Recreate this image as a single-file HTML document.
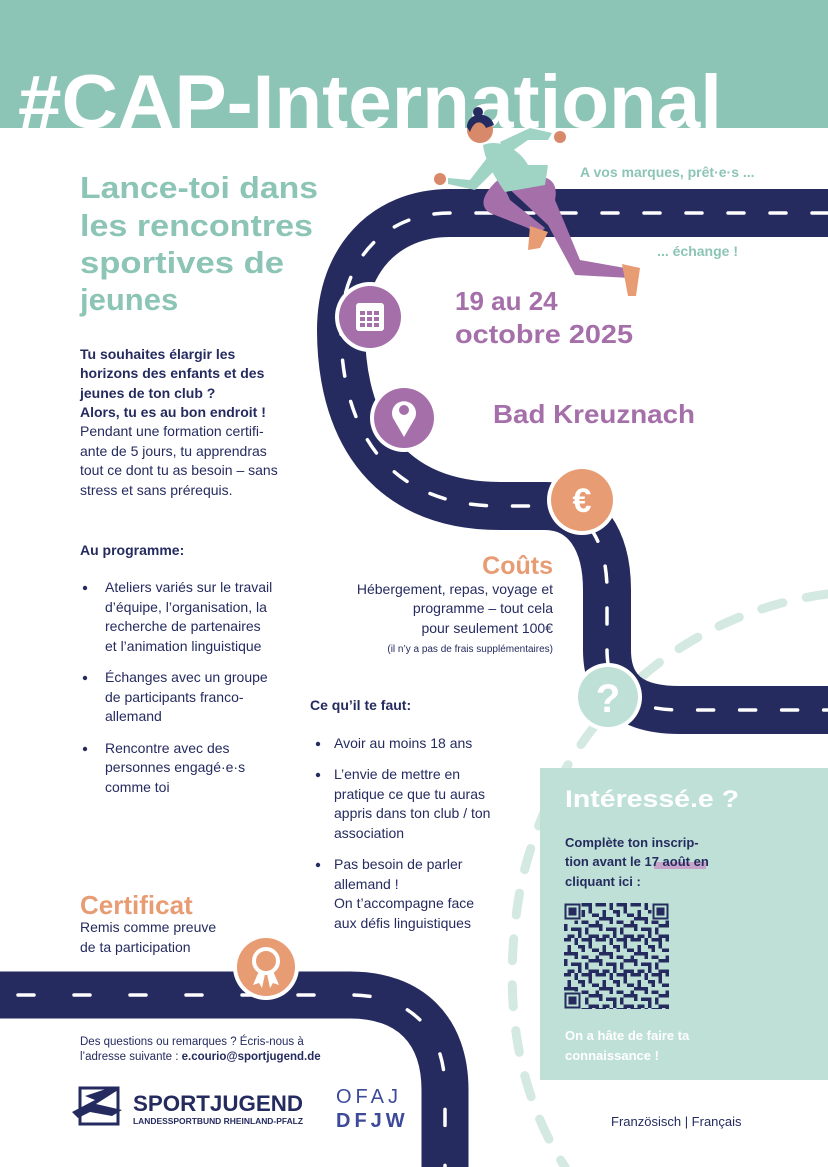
<!DOCTYPE html>
<html><head><meta charset="utf-8"><style>
html,body{margin:0;padding:0;background:#fff;}
svg{display:block;}
text{font-family:"Liberation Sans",sans-serif;}
</style></head><body>
<svg width="828" height="1167" viewBox="0 0 828 1167" xmlns="http://www.w3.org/2000/svg">
<defs>
<pattern id="qr" x="564" y="903" width="35" height="35" patternUnits="userSpaceOnUse">
<g fill="#252b5f">
<rect x="0" y="0" width="7" height="3.5"/><rect x="10.5" y="0" width="3.5" height="7"/><rect x="17.5" y="0" width="10.5" height="3.5"/><rect x="31.5" y="0" width="3.5" height="3.5"/>
<rect x="3.5" y="7" width="3.5" height="7"/><rect x="14" y="7" width="7" height="3.5"/><rect x="24.5" y="3.5" width="3.5" height="7"/><rect x="28" y="10.5" width="7" height="3.5"/>
<rect x="0" y="14" width="10.5" height="3.5"/><rect x="10.5" y="14" width="3.5" height="7"/><rect x="17.5" y="17.5" width="7" height="3.5"/><rect x="31.5" y="17.5" width="3.5" height="7"/>
<rect x="0" y="21" width="3.5" height="7"/><rect x="7" y="24.5" width="10.5" height="3.5"/><rect x="21" y="24.5" width="3.5" height="7"/><rect x="24.5" y="21" width="7" height="3.5"/>
<rect x="3.5" y="31.5" width="7" height="3.5"/><rect x="14" y="28" width="3.5" height="7"/><rect x="24.5" y="31.5" width="10.5" height="3.5"/><rect x="17.5" y="10.5" width="3.5" height="3.5"/>
</g></pattern>
</defs>

<!-- header -->
<rect x="0" y="0" width="828" height="128" fill="#8cc5b5"/>
<text x="18" y="128" font-size="76" font-weight="bold" fill="#fff" textLength="704" lengthAdjust="spacingAndGlyphs">#CAP-International</text>

<!-- dashed light arc -->
<path d="M828,594 C700,610 565,700 522,880 C500,990 515,1090 565,1167" fill="none" stroke="#d3e9e2" stroke-width="9" stroke-linecap="round" stroke-dasharray="22 24"/>

<!-- interested box -->
<rect x="540" y="768" width="288" height="312" fill="#bfe0d6"/>

<!-- roads -->
<g fill="none">
<path d="M828,213 L450,213 C385,213 341,260 341,330 C341,420 380,506 500,506 L545,506 C585,506 607,540 607,590 L607,650 C607,690 630,710 680,710 L828,710" stroke="#252b5f" stroke-width="48"/>
<path d="M828,213 L450,213 C385,213 341,260 341,330 C341,420 380,506 500,506 L545,506 C585,506 607,540 607,590 L607,650 C607,690 630,710 680,710 L828,710" stroke="#fff" stroke-width="3.5" stroke-dasharray="16 26" stroke-linecap="round"/>
<path d="M0,995 L350,995 C410,995 445,1030 445,1090 L445,1167" stroke="#252b5f" stroke-width="47"/>
<path d="M18,995 L350,995 C410,995 445,1030 445,1090 L445,1167" stroke="#fff" stroke-width="3.5" stroke-dasharray="16 40" stroke-linecap="round"/>
</g>
<path d="M560,760 C545,780 535,800 528,820" stroke="#a7c6c4" stroke-width="8" fill="none" opacity="0"/>

<!-- icon circles -->
<circle cx="370" cy="317" r="35" fill="#fff"/><circle cx="370" cy="317" r="31" fill="#a56fa9"/>
<rect x="356" y="303" width="28" height="28" rx="3" fill="#fff"/>
<g fill="#a56fa9"><rect x="360" y="311" width="5" height="4"/><rect x="367" y="311" width="5" height="4"/><rect x="374" y="311" width="5" height="4"/><rect x="360" y="317" width="5" height="4"/><rect x="367" y="317" width="5" height="4"/><rect x="374" y="317" width="5" height="4"/><rect x="360" y="323" width="5" height="4"/><rect x="367" y="323" width="5" height="4"/><rect x="374" y="323" width="5" height="4"/></g>

<circle cx="404" cy="418" r="34" fill="#fff"/><circle cx="404" cy="418" r="30" fill="#a56fa9"/>
<path d="M404,437 L393,418 A12,12 0 1 1 415,418 Z" fill="#fff"/><circle cx="404" cy="410" r="5" fill="#a56fa9"/>

<circle cx="582" cy="500" r="35" fill="#fff"/><circle cx="582" cy="500" r="31" fill="#e89c74"/>
<text x="582" y="512" font-size="34" font-weight="bold" fill="#fff" text-anchor="middle">€</text>

<circle cx="608" cy="697" r="34" fill="#fff"/><circle cx="608" cy="697" r="30" fill="#bfe0d6"/>
<text x="608" y="712" font-size="40" font-weight="bold" fill="#fff" text-anchor="middle">?</text>

<circle cx="266" cy="967" r="33" fill="#fff"/><circle cx="266" cy="967" r="29" fill="#e89c74"/>
<circle cx="266" cy="961" r="12" fill="none" stroke="#fff" stroke-width="4"/>
<path d="M259,971 L253,985 L259,983 L262,988 L265,974 Z M273,971 L279,985 L273,983 L270,988 L267,974 Z" fill="#fff"/>

<!-- runner -->
<g>
<path d="M505,185 C540,170 560,175 555,200 L580,260 L625,268 L630,278 L575,275 L548,225 Z" fill="#a56fa9"/>
<path d="M500,178 C480,195 478,210 495,215 L528,228 L538,235 L545,228 L510,200 Z" fill="#a56fa9"/>
<path d="M622,264 L640,268 L636,296 L628,296 Z" fill="#e89c74"/>
<path d="M530,226 L548,232 L540,248 L528,250 Z" fill="#e89c74"/>
<path d="M483,145 C500,138 520,150 528,165 L548,165 L545,185 L505,192 C493,175 485,160 483,145 Z" fill="#9fd3c3"/>
<path d="M500,142 L530,128 L552,133 L548,140 L528,140 L505,156 Z" fill="#9fd3c3"/>
<path d="M487,158 L470,180 L448,178 L448,184 L475,190 L495,170 Z" fill="#9fd3c3"/>
<circle cx="480" cy="130" r="13" fill="#d8896a"/>
<path d="M467,127 C467,112 490,110 494,125 L486,128 C482,120 474,120 470,132 Z" fill="#252b5f"/>
<circle cx="478" cy="112" r="5" fill="#252b5f"/>
<circle cx="440" cy="179" r="6" fill="#d8896a"/><circle cx="560" cy="137" r="6" fill="#d8896a"/>
</g>

<!-- road side labels -->
<text x="580" y="177" font-size="14" font-weight="bold" fill="#8cc5b5">A vos marques, prêt·e·s ...</text>
<text x="738" y="256" font-size="14" font-weight="bold" fill="#8cc5b5" text-anchor="end">... échange !</text>

<!-- headline -->
<g font-size="31" font-weight="bold" fill="#8cc5b5">
<text x="80" y="198" textLength="238" lengthAdjust="spacingAndGlyphs">Lance-toi dans</text>
<text x="80" y="236" textLength="233" lengthAdjust="spacingAndGlyphs">les rencontres</text>
<text x="80" y="273" textLength="204" lengthAdjust="spacingAndGlyphs">sportives de</text>
<text x="80" y="310">jeunes</text>
</g>

<g font-size="26" font-weight="bold" fill="#a56fa9">
<text x="455" y="310">19 au 24</text>
<text x="455" y="343" textLength="178" lengthAdjust="spacingAndGlyphs">octobre 2025</text>
<text x="493" y="423" textLength="202" lengthAdjust="spacingAndGlyphs">Bad Kreuznach</text>
</g>

<!-- left text -->
<g font-size="14" fill="#252b5f">
<g font-weight="bold">
<text x="80" y="359">Tu souhaites élargir les</text>
<text x="80" y="378">horizons des enfants et des</text>
<text x="80" y="398">jeunes de ton club ?</text>
<text x="80" y="417">Alors, tu es au bon endroit !</text>
</g>
<text x="80" y="436">Pendant une formation certifi-</text>
<text x="80" y="456">ante de 5 jours, tu apprendras</text>
<text x="80" y="475">tout ce dont tu as besoin – sans</text>
<text x="80" y="495">stress et sans prérequis.</text>
<text x="80" y="555" font-weight="bold">Au programme:</text>
<g><circle cx="85" cy="588" r="2.2"/><circle cx="85" cy="678" r="2.2"/><circle cx="85" cy="749" r="2.2"/></g>
<text x="105" y="592">Ateliers variés sur le travail</text>
<text x="105" y="612">d’équipe, l’organisation, la</text>
<text x="105" y="631">recherche de partenaires</text>
<text x="105" y="651">et l’animation linguistique</text>
<text x="105" y="682">Échanges avec un groupe</text>
<text x="105" y="702">de participants franco-</text>
<text x="105" y="721">allemand</text>
<text x="105" y="753">Rencontre avec des</text>
<text x="105" y="772">personnes engagé·e·s</text>
<text x="105" y="792">comme toi</text>
</g>

<!-- costs -->
<text x="553" y="574" font-size="25" font-weight="bold" fill="#e89c74" text-anchor="end">Coûts</text>
<g font-size="14" fill="#252b5f" text-anchor="end">
<text x="553" y="594">Hébergement, repas, voyage et</text>
<text x="553" y="613">programme – tout cela</text>
<text x="553" y="633">pour seulement 100€</text>
<text x="553" y="652" font-size="10">(il n’y a pas de frais supplémentaires)</text>
</g>

<!-- requirements -->
<g font-size="14" fill="#252b5f">
<text x="310" y="710" font-weight="bold">Ce qu’il te faut:</text>
<circle cx="318" cy="744" r="2.2"/><circle cx="318" cy="775" r="2.2"/><circle cx="318" cy="865" r="2.2"/>
<text x="334" y="748">Avoir au moins 18 ans</text>
<text x="334" y="779">L’envie de mettre en</text>
<text x="334" y="799">pratique ce que tu auras</text>
<text x="334" y="818">appris dans ton club / ton</text>
<text x="334" y="838">association</text>
<text x="334" y="869">Pas besoin de parler</text>
<text x="334" y="889">allemand !</text>
<text x="334" y="908">On t’accompagne face</text>
<text x="334" y="928">aux défis linguistiques</text>
</g>

<!-- certificat -->
<text x="80" y="914" font-size="26" font-weight="bold" fill="#e89c74">Certificat</text>
<g font-size="14" fill="#252b5f">
<text x="80" y="932">Remis comme preuve</text>
<text x="80" y="952">de ta participation</text>
</g>

<!-- contact -->
<g font-size="11.5" fill="#252b5f">
<text x="80" y="1045">Des questions ou remarques ? Écris-nous à</text>
<text x="80" y="1060">l’adresse suivante : <tspan font-weight="bold">e.courio@sportjugend.de</tspan></text>
</g>

<!-- logos -->
<g fill="#252b5f">
<path d="M80,1088 L118,1088 L118,1124 L80,1124 Z" fill="none" stroke="#252b5f" stroke-width="3"/>
<path d="M72,1112 L95,1100 L85,1096 L112,1087 L118,1090 L96,1104 L122,1110 L112,1116 L90,1112 L78,1118 Z"/>
<text x="133" y="1111" font-size="22" font-weight="bold" textLength="170" lengthAdjust="spacingAndGlyphs">SPORTJUGEND</text>
<text x="133" y="1124" font-size="8" font-weight="bold" textLength="170" lengthAdjust="spacingAndGlyphs">LANDESSPORTBUND RHEINLAND-PFALZ</text>
</g>
<g font-size="20" fill="#3d4a9a" letter-spacing="4">
<text x="336" y="1103">OFAJ</text>
<text x="336" y="1127" font-weight="bold">DFJW</text>
</g>

<!-- interested content -->
<text x="565" y="807" font-size="24" font-weight="bold" fill="#fff" textLength="174" lengthAdjust="spacingAndGlyphs">Intéressé.e ?</text>
<rect x="654" y="862" width="52" height="7" fill="#c7a3c9"/>
<g font-size="13" font-weight="bold" fill="#252b5f">
<text x="565" y="847">Complète ton inscrip-</text>
<text x="565" y="866">tion avant le 17 août en</text>
<text x="565" y="886">cliquant ici :</text>
</g>
<rect x="564" y="903" width="105" height="106" fill="url(#qr)"/>
<g fill="#252b5f" stroke="#bfe0d6" stroke-width="1">
<rect x="564" y="903" width="17" height="17"/><rect x="652" y="903" width="17" height="17"/><rect x="564" y="992" width="17" height="17"/>
</g>
<g fill="none" stroke="#bfe0d6" stroke-width="2"><rect x="567.5" y="906.5" width="10" height="10"/><rect x="655.5" y="906.5" width="10" height="10"/><rect x="567.5" y="995.5" width="10" height="10"/></g>
<g font-size="13" font-weight="bold" fill="#fff">
<text x="565" y="1040">On a hâte de faire ta</text>
<text x="565" y="1060">connaissance !</text>
</g>
<text x="611" y="1126" font-size="13" fill="#252b5f">Französisch | Français</text>
</svg>
</body></html>
